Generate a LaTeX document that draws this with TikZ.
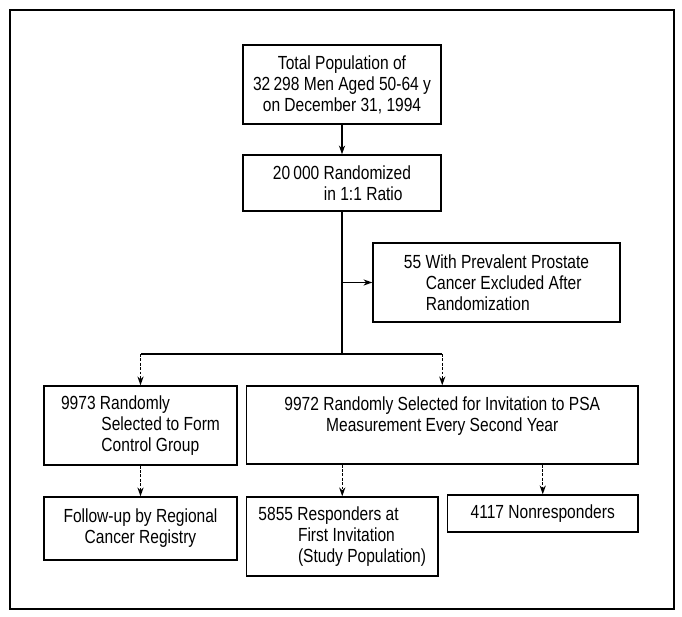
\documentclass[tikz,border=0pt]{standalone}
\usepackage{fontspec}
\setmainfont{Liberation Sans}[FakeStretch=0.82]
\usetikzlibrary{arrows.meta}

\tikzset{
  flowbox/.style={draw,line width=0.8pt,inner sep=0pt,align=left,
    font=\fontsize{10.8}{11.9}\selectfont},
  link/.style={line width=0.7pt,-{Stealth[length=5pt,width=3.5pt]}},
  brokenlink/.style={link,dash pattern=on 1.6pt off 0.9pt}
}

\begin{document}
\begin{tikzpicture}[x=0.02cm,y=-0.02cm]
\useasboundingbox (0,0) rectangle (682,617);
\draw[line width=1.1pt] (10,10) rectangle (674,609);

% boxes
\node[flowbox,minimum width=198*0.02cm,minimum height=79*0.02cm,align=center] (total) at (342,84.5)
  {Total Population of\\32\,298 Men Aged 50-64 y\\on December 31, 1994};
\node[flowbox,minimum width=198*0.02cm,minimum height=56*0.02cm] (random) at (342,183)
  {20\,000 Randomized\\\hspace*{29pt}in 1:1 Ratio};
\node[flowbox,minimum width=247*0.02cm,minimum height=79*0.02cm] (excl) at (496.5,282.5)
  {55 With Prevalent Prostate\\\hspace*{12.5pt}Cancer Excluded After\\\hspace*{12.5pt}Randomization};

\node[flowbox,minimum width=193*0.02cm,minimum height=79*0.02cm] (control) at (140.5,425.5)
  {9973 Randomly\\\hspace*{23pt}Selected to Form\\\hspace*{23pt}Control Group};
\node[flowbox,minimum width=391.5*0.02cm,minimum height=78*0.02cm,align=center] (invite) at (442.25,425)
  {9972 Randomly Selected for Invitation to PSA\\Measurement Every Second Year\\\mbox{}};

\node[flowbox,minimum width=193*0.02cm,minimum height=63*0.02cm,align=center] (registry) at (140.5,528.5)
  {Follow-up by Regional\\Cancer Registry};
\node[flowbox,minimum width=191.5*0.02cm,minimum height=79*0.02cm] (resp) at (342.25,536.5)
  {5855 Responders at\\\hspace*{22.5pt}First Invitation\\\hspace*{22.5pt}(Study Population)};
\node[flowbox,minimum width=190.5*0.02cm,minimum height=37*0.02cm] (nonresp) at (542.75,513.5)
  {4117 Nonresponders};

% connectors
\coordinate (split) at (342,354);
\draw[link] (total) -- (random);
\draw[line width=0.7pt] (random) -- (split);
\draw[link] (excl.west -| random.south) -- (excl.west);
\draw[line width=0.7pt] (split) -- (split -| control.north);
\draw[line width=0.7pt] (split) -- (split -| invite.north);
\draw[brokenlink] (split -| control.north) -- (control.north);
\draw[brokenlink] (split -| invite.north) -- (invite.north);

\draw[brokenlink] (control) -- (registry);
\draw[brokenlink] (invite.south -| resp.north) -- (resp.north);
\draw[brokenlink] (invite.south -| nonresp.north) -- (nonresp.north);
\end{tikzpicture}
\end{document}
